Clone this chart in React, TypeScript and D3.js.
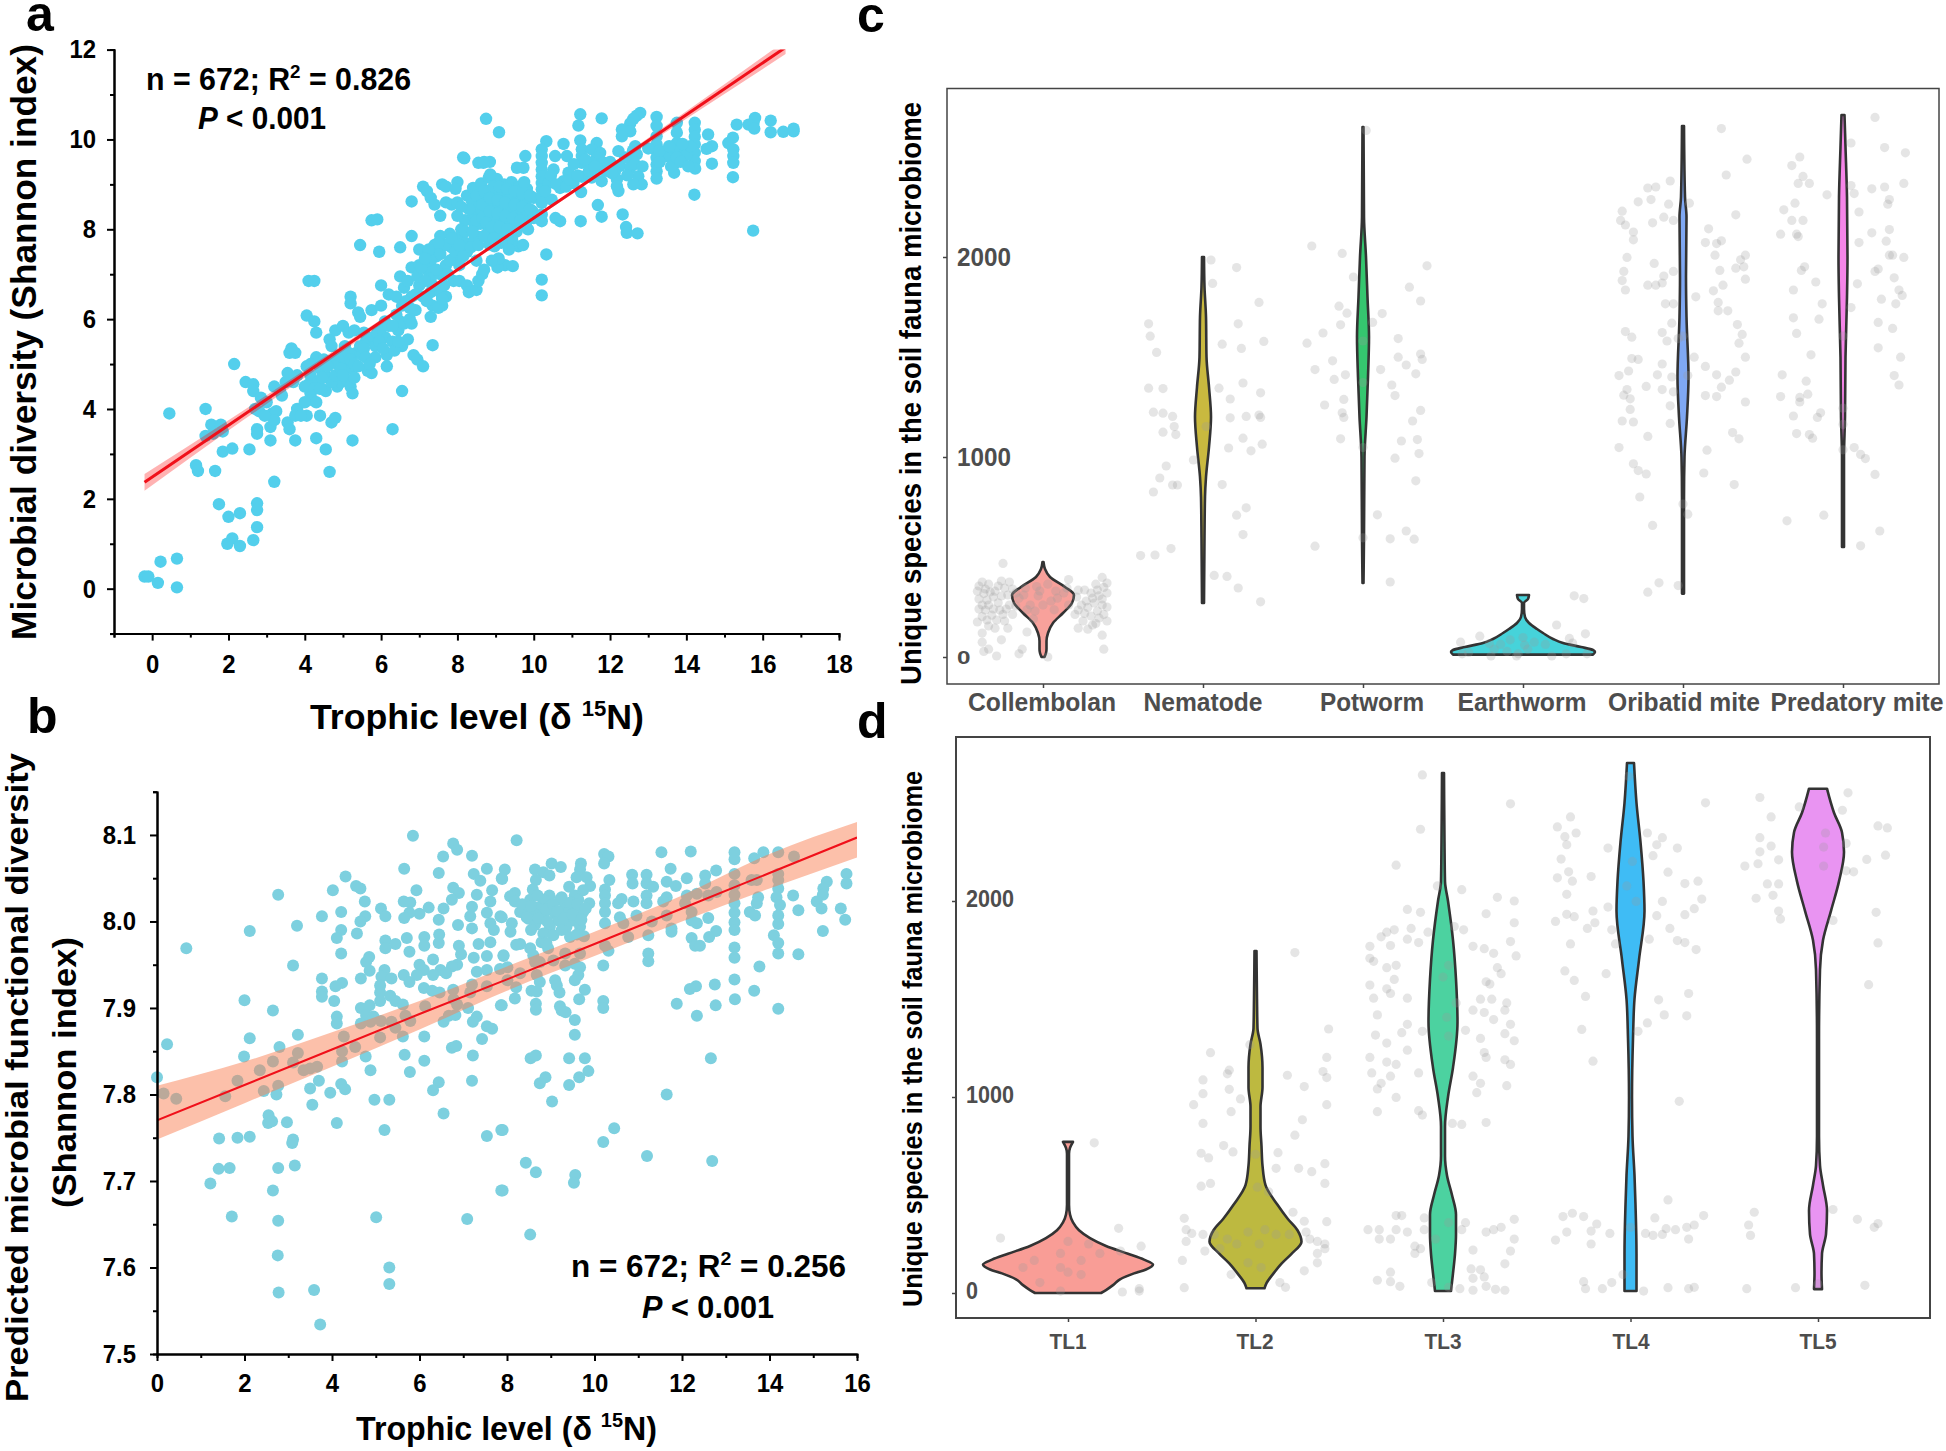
import { useEffect, useRef } from "react"
import * as d3 from "d3"

type Pt = [number, number]

// panel a: trophic level vs microbial diversity
const scatterA: Pt[] = [
  [-0.2,0.27],[-0.1,0.27],[0.15,0.13],[0.22,0.6],[0.65,0.67],[0.65,0.03],[1.15,2.75],[1.2,2.62],[1.65,2.62],[1.75,1.88],[2,1.6],[2.3,1.68],[2.75,1.9],[2.75,1.75],[2.75,1.37],[1.97,1.0],[2.1,1.12],[2.3,0.95],[2.65,1.08],[3.2,2.38],[4.65,2.6],
  [0.45,3.9],[1.4,4.0],[1.55,3.65],[1.4,3.4],[1.6,3.45],[1.8,3.65],[1.85,3.5],[1.85,3.05],[2.1,3.12],[2.55,3.1],[2.15,5.0],[2.45,4.6],[2.65,4.55],[2.65,4.4],[2.85,4.25],[2.7,4.0],[2.8,3.95],[2.75,3.55],[2.75,3.45],[3.1,3.6],[3.1,3.3],[3.15,3.9],[3.25,3.95],[3.2,3.75],[3.2,4.5],[3.35,4.4],[3.55,3.7],[3.6,3.55],[3.75,3.3],[3.8,4.0],[3.75,3.85],[4.05,3.85],[3.9,3.85],[4.3,3.35],[4.4,3.85],[4.55,3.1],[4.7,3.7],[4.8,3.8],[5.25,3.3],[6.3,3.55],[6.55,4.4],
  [3.55,4.8],[3.6,5.25],[3.65,5.35],[3.75,5.25],[3.8,4.75],[4.05,4.95],[4.1,4.55],[4.1,6.85],[4.25,6.85],[4.05,6.08],[4.25,5.95],[4.3,5.7],[4.3,5.15],[4.15,5.0],[4.15,4.75],[4.15,4.35],[4.2,4.2],[4.3,4.15],[4.15,4.5],[4.35,4.6],[4.55,4.4],[4.6,4.7],[4.65,5.55],[4.7,5.4],[4.8,5.75],[4.75,5.1],[4.85,5.0],[4.85,4.5],[4.95,4.6],[5.0,5.85],[5.05,5.4],[5.1,5.0],[5.1,4.65],[5.2,4.9],[5.2,4.5],[5.25,4.35],[5.15,5.7],[5.2,6.5],[5.2,6.35],[5.3,5.75],[5.35,5.25],[5.4,6.15],[5.45,6.05],[5.45,7.65],[5.5,5.2],[5.6,5.5],[5.65,4.85],[5.75,4.8],[5.75,6.2],[5.85,5.15],[5.8,5.6],[5.9,5.7],[5.75,8.2],[5.9,8.22],[5.95,7.5],[6.0,6.3],[6.0,6.75],[6.1,5.6],[6.15,5.2],[6.15,4.95],[6.2,6.55],[6.3,5.5],[6.4,6.5],[6.4,6.1],[6.45,5.75],[6.5,6.95],[6.5,7.6],[6.5,5.95],[6.55,5.4],[6.6,5.9],[6.7,5.55],[6.75,6.0],[6.8,6.5],[6.8,5.9],[6.85,5.2],[6.9,6.2],[6.95,5.1],[7.0,6.75],[7.1,4.95],[6.8,7.15],[6.8,7.85],[6.8,8.62],[7.0,7.55],[7.0,7.2],[7.2,7.1],[7.1,8.95],[7.25,7.05],[7.3,6.9],[7.3,6.6],[7.35,6.3],[7.3,6.05],[7.35,5.42],[7.4,7.65],[7.45,7.4],[7.2,8.85],[7.3,8.7],[7.4,8.55],[7.6,9.0],[7.7,8.95],[7.7,8.6],[7.55,8.3],[7.55,7.85],[7.55,7.45],[7.55,7.0],[7.55,6.6],[7.6,6.3],[7.7,6.5],[7.7,7.2],[7.8,7.9],[7.85,8.55],[7.85,7.6],[7.9,7.35],[7.9,6.85],[8.0,9.05],[8.0,8.6],[8.0,7.8],[8.05,7.2],[8.05,6.85],[8.2,8.2],[8.2,7.7],[8.25,7.5],[8.25,6.75],[8.3,6.6],[8.15,9.6],[8.25,8.75],[8.45,8.55],[8.45,8.1],[8.45,7.8],[8.5,7.3],[8.5,6.65],[8.55,6.85],[8.65,7.0],
  [8.41,8.92],[8.38,8.63],[8.43,8.31],[8.62,9.02],[8.58,8.72],[8.63,8.43],[8.6,8.12],[8.57,7.83],[8.82,9.15],[8.78,8.86],[8.83,8.53],[8.79,8.27],[8.81,7.94],[8.84,7.66],[9.03,9.12],[8.98,8.8],[9.02,8.52],[9.0,8.19],[9.05,7.88],[8.97,7.62],[9.22,9.0],[9.18,8.74],[9.2,8.47],[9.23,8.14],[9.16,7.84],[9.42,9.05],[9.38,8.7],[9.41,8.42],[9.37,8.1],[9.43,7.78],[9.62,8.95],[9.58,8.66],[9.61,8.33],[9.57,8.04],[9.82,8.9],[9.78,8.6],[9.83,8.31],[9.85,8.0],[10.0,8.7],[9.96,8.41],[9.6,7.62],[9.72,7.65],[9.3,7.7],[9.25,7.2],[9.45,7.18],[9.05,7.15],[9.08,7.35],[8.9,7.3],[8.7,7.1],[8.7,9.5],[8.85,9.5],[8.75,10.46],[9.09,10.16],
  [11.22,10.56],[11.17,10.31],[11.78,10.47],[12.79,10.59],[12.7,10.53],[12.61,10.46],[12.53,10.36],[12.31,10.22],[12.53,10.18],[12.31,10.07],[13.22,10.5],[13.22,10.3],[13.22,10.07],[13.75,10.37],[13.75,10.15],[14.22,10.37],[14.22,10.22],[14.22,10.06],[14.22,9.89],[14.22,9.7],[14.22,9.52],[14.23,9.35],[14.57,10.11],[14.67,9.85],[14.53,9.79],[15.32,10.33],[15.22,10.04],[15.1,9.92],[15.23,9.78],[15.23,9.63],[15.23,9.48],[15.22,9.16],[15.76,10.37],[15.8,10.48],[15.63,10.33],[15.78,10.24],[16.21,10.42],[16.21,10.16],[16.54,10.17],[16.81,10.18],[16.81,10.24],[14.67,9.46],[14.21,8.77],[15.75,7.97],
  [10.33,9.96],[10.78,9.9],[10.21,9.78],[10.21,9.63],[10.21,9.48],[10.21,9.33],[10.21,9.18],[10.21,9.03],[10.21,8.89],[10.21,8.74],[10.21,8.59],[10.21,8.33],[10.21,8.18],[10.56,9.63],[10.87,9.63],[10.52,9.33],[10.39,9.03],[10.47,8.66],[9.78,9.63],[9.56,9.37],[9.73,9.37],[8.18,9.58],[8.55,9.48],[8.68,9.48],[8.86,9.22],[11.22,9.98],[11.65,9.92],[11.26,9.78],[11.26,9.63],[11.52,9.78],[11.74,9.7],[11.65,9.59],[11.26,9.48],[11.52,9.48],[11.83,9.48],[12.22,9.74],[12.66,9.85],[12.7,9.67],[12.53,9.59],[12.26,9.41],[12.53,9.37],[12.13,9.29],[12.74,9.18],[12.83,9.0],[12.61,9.0],[12.18,9.11],[12.22,8.85],[12.18,8.96],[11.7,9.33],[11.52,9.15],[11.78,9.07],[11.26,9.17],[10.91,9.26],[10.78,9.07],[10.69,8.92],[11.04,9.03],[11.24,8.83],[11.68,8.54],[11.78,8.28],[10.57,8.25],[10.69,8.18],[11.23,8.18],[12.33,8.33],[12.42,8.05],[12.44,7.92],[12.72,7.91],[10.33,7.44],[10.21,6.88],[10.21,6.53],
  [13.22,9.89],[13.22,9.74],[13.22,9.59],[13.22,9.44],[13.22,9.29],[13.22,9.13],[13.66,9.67],[13.75,9.92],[13.84,9.78],[13.92,9.59],[13.7,9.48],[13.68,9.26],[13.49,9.63],[14.01,9.67],
  [4.4,4.9],[4.5,5.1],[4.6,4.95],[4.45,4.45],[4.7,4.6],[4.8,4.75],[4.9,5.2],[4.95,4.9],[5.0,4.75],[5.05,5.15],[5.15,5.25],[5.2,5.1],[5.3,5.0],[5.3,4.7],[5.4,4.95],[5.45,5.4],[5.55,5.35],[5.6,5.15],[5.55,5.7],[5.7,5.0],[5.85,5.4],[5.95,5.5],[6.0,5.8],[6.05,5.35],[6.1,5.95],[6.2,5.85],[6.3,5.85],[6.35,5.3],[6.45,5.5],[6.55,6.3],[6.6,6.7],[6.65,6.4],[6.7,6.85],[6.75,6.25],[6.9,6.55],[6.95,6.95],[7.05,7.15],[7.1,6.5],[7.15,6.85],[7.2,6.4],[7.3,7.3],[7.35,6.75],[7.45,7.1],[7.5,6.25],[7.6,6.45],[7.65,6.75],[7.7,7.65],[7.75,7.0],[7.8,7.3],[7.85,7.8],[7.95,7.5],[8.05,7.65],[8.1,8.0],[8.15,7.4],[8.2,7.95],[8.3,8.45],[8.35,7.6],[8.4,7.95],[8.5,8.2],[8.5,8.75],[8.55,7.65],[8.65,8.25],[8.65,8.55],[8.7,8.85],[8.7,7.85],[8.75,8.15],[8.85,8.4],[8.85,8.7],[8.9,8.05],[8.95,8.95],[8.95,7.8],[9.05,8.35],[9.05,8.65],[9.1,8.95],[9.1,8.05],[9.15,7.7],[9.25,8.3],[9.25,8.6],[9.3,8.9],[9.3,8.0],[9.35,7.55],[9.45,8.25],[9.5,8.55],[9.5,8.85],[9.55,7.95],[9.65,8.2],[9.7,8.5],[9.7,8.8],[9.75,9.05],[9.8,8.15],[9.9,8.45],[9.9,8.75],[10,8.25],[8.0,8.3],[8.1,8.5],[7.95,8.9],[7.5,7.7],[7.25,7.55],[7.15,7.35],
  [10.3,8.85],[10.45,9.2],[10.6,9.0],[10.85,8.95],[10.95,9.1],[11.05,9.45],[11.15,9.2],[11.35,9.55],[11.45,9.3],[11.6,9.4],[11.9,9.3],[12.0,9.5],[12.05,9.25],[12.4,9.6],[12.45,9.2],[12.6,9.75],[12.65,9.45],[12.85,9.4],[13.0,9.8],[13.3,9.5],[13.3,9.75],[13.55,9.85],[13.6,9.4],[13.75,9.6],[13.85,9.5],[14.05,9.4],[14.1,9.85],[13.9,9.9],
  [3.4,4.3],[3.5,4.6],[3.0,4.15],[2.95,3.85],[3.7,4.6],[4.0,4.5],[4.0,4.15],[4.25,4.45],[4.4,4.45],[4.45,4.7],
]
const fitXA = [-0.2, 2, 4, 6, 8, 10, 12, 14, 16.6]
const fitYA = [2.37, 3.64, 4.79, 5.94, 7.1, 8.25, 9.4, 10.55, 12.05]
const fitUpperA = [2.55, 3.75, 4.87, 5.99, 7.13, 8.28, 9.44, 10.63, 12.2]
const fitLowerA = [2.18, 3.52, 4.7, 5.88, 7.06, 8.21, 9.35, 10.46, 11.9]

// panel b: trophic level vs predicted functional diversity
const scatterB: Pt[] = [
  [5.85,8.099],[6.77,8.09],[6.86,8.083],[6.54,8.075],[7.2,8.076],[5.65,8.061],[7.54,8.061],[6.44,8.056],[7.24,8.055],[7.39,8.047],[7.89,8.049],[4.31,8.052],[4.02,8.036],[4.55,8.041],[4.65,8.038],[5.93,8.036],[6.77,8.039],[6.9,8.033],[2.77,8.031],[7.31,8.031],[7.66,8.036],[4.75,8.023],[5.64,8.023],[5.79,8.022],[6.74,8.025],[7.62,8.023],[6.21,8.016],[5.12,8.015],[4.21,8.011],[6.55,8.015],[7.2,8.017],[5.22,8.006],[4.76,8.006],[3.77,8.006],[6.0,8.009],[5.77,8.01],[5.65,8.004],[6.44,8.002],[7.54,8.01],[7.16,8.006],[7.85,8.006],[4.65,8.0],[2.12,7.989],[3.2,7.995],[4.21,7.99],[6.88,7.996],[7.2,7.992],[7.62,7.998],[7.7,7.99],[4.57,7.986],[6.45,7.985],[4.11,7.981],[5.71,7.981],[6.11,7.982],[5.22,7.978],[6.44,7.975],[5.45,7.974],[6.11,7.972],[5.22,7.969],[0.67,7.969],[6.9,7.972],[7.35,7.974],[7.62,7.976],[4.21,7.963],[5.77,7.965],[6.95,7.962],[4.85,7.959],[4.78,7.953],[6.31,7.956],[7.24,7.958],[7.54,7.96],[7.92,7.96],[3.11,7.949],[6.0,7.95],[6.86,7.95],[6.74,7.948],[6.48,7.944],[4.86,7.943],[5.2,7.944],[6.1,7.944],[6.31,7.938],[6.61,7.94],[7.31,7.942],[7.54,7.944],[5.64,7.938],[5.94,7.938],[3.77,7.934],[4.66,7.934],[5.13,7.936],[5.36,7.934],[5.77,7.93],[4.23,7.929],[4.08,7.925],[5.1,7.926],[6.1,7.923],[6.29,7.92],[7.2,7.927],[7.54,7.925],[3.77,7.919],[5.1,7.918],[6.46,7.918],[6.77,7.921],[7.16,7.918],[3.77,7.913],[5.33,7.914],[2.0,7.909],[4.05,7.908],[5.1,7.908],[5.45,7.908],[6.78,7.91],[5.62,7.904],[6.13,7.902],[7.86,7.903],[2.65,7.897],[4.66,7.9],[4.86,7.903],[6.86,7.904],[7.11,7.9],[4.11,7.89],[4.78,7.892],[4.95,7.89],[5.68,7.891],[6.67,7.891],[7.31,7.89],[4.11,7.882],[4.66,7.882],[4.88,7.884],[5.12,7.885],[5.36,7.884],[5.79,7.885],[6.55,7.884],[6.82,7.892],[7.22,7.884],[7.54,7.879],[7.66,7.876],[3.22,7.869],[4.27,7.867],[5.45,7.877],[5.62,7.867],[6.11,7.867],[2.12,7.865],[5.1,7.866],[7.43,7.864],[0.23,7.858],[2.8,7.855],[4.53,7.855],[4.23,7.85],[6.74,7.854],[6.84,7.856],[3.22,7.848],[5.66,7.846],[1.99,7.844],[4.77,7.844],[7.22,7.845],[2.65,7.838],[3.11,7.837],[4.23,7.838],[6.11,7.839],[2.35,7.828],[3.35,7.828],[3.5,7.83],[3.66,7.832],[4.88,7.828],[5.78,7.826],[1.84,7.816],[3.7,7.816],[7.2,7.816],[2.77,7.81],[6.44,7.814],[3.5,7.807],[4.21,7.812],[4.3,7.806],[6.31,7.805],[3.96,7.802],[2.44,7.804],[2.73,7.8],[0.15,7.801],[0.44,7.795],[1.56,7.798],[4.97,7.794],[5.31,7.794],[3.55,7.788],[6.55,7.778],[2.55,7.776],[2.63,7.769],[2.54,7.767],[2.97,7.768],[4.11,7.767],[5.2,7.759],[7.87,7.759],[7.54,7.752],[1.42,7.749],[1.84,7.75],[2.12,7.751],[3.11,7.748],[3.09,7.744],[1.41,7.714],[1.66,7.715],[2.77,7.715],[3.15,7.718],[1.22,7.697],[2.65,7.689],[7.87,7.689],[1.71,7.659],[2.77,7.654],[5.01,7.658],[7.09,7.656],[2.76,7.614],[5.31,7.6],[5.31,7.581],[3.59,7.574],[2.78,7.571],[3.73,7.534],[0,7.82],
  [8.22,8.094],[10.22,8.078],[10.32,8.075],[10.22,8.067],[11.53,8.08],[12.2,8.081],[13.2,8.08],[13.2,8.072],[13.86,8.08],[14.2,8.08],[13.65,8.073],[14.56,8.075],[9.02,8.067],[9.23,8.063],[9.69,8.067],[7.95,8.06],[8.64,8.06],[8.83,8.057],[8.97,8.053],[9.67,8.06],[11.74,8.061],[12.78,8.059],[10.86,8.054],[11.19,8.054],[12.11,8.05],[12.53,8.053],[13.2,8.055],[14.2,8.055],[15.76,8.055],[15.76,8.044],[8.66,8.048],[9.59,8.051],[9.82,8.051],[10.34,8.048],[10.87,8.044],[11.19,8.044],[11.65,8.046],[11.86,8.041],[12.53,8.044],[13.59,8.048],[13.71,8.048],[14.2,8.048],[15.31,8.046],[13.2,8.042],[7.88,8.05],[9.42,8.04],[9.9,8.041],[11.34,8.04],[12.79,8.034],[15.23,8.038],[8.59,8.037],[9.74,8.036],[10.24,8.037],[14.2,8.038],[14.54,8.03],[8.18,8.033],[8.07,8.029],[8.97,8.03],[9.55,8.03],[10.24,8.03],[10.62,8.026],[11.19,8.03],[11.65,8.028],[12.11,8.03],[12.34,8.032],[12.6,8.03],[13.2,8.031],[15.22,8.031],[13.74,8.028],[14.16,8.028],[8.18,8.023],[8.53,8.025],[8.83,8.025],[9.21,8.025],[9.63,8.025],[9.88,8.021],[10.24,8.021],[10.54,8.021],[10.89,8.023],[11.19,8.021],[11.57,8.023],[12.07,8.021],[13.2,8.021],[14.24,8.019],[15.08,8.023],[13.71,8.021],[8.41,8.016],[8.68,8.016],[8.98,8.018],[9.33,8.018],[9.52,8.016],[15.63,8.015],[15.19,8.015],[14.66,8.013],[8.3,8.011],[8.6,8.009],[8.87,8.011],[9.1,8.009],[9.4,8.01],[9.74,8.011],[10.24,8.011],[10.58,8.005],[10.96,8.007],[11.65,8.007],[12.22,8.011],[13.2,8.01],[13.55,8.011],[14.2,8.007],[13.67,8.007],[7.88,8.005],[8.49,8.003],[8.75,8.003],[9.17,8.001],[9.52,8.001],[15.73,8.002],[12.22,8.001],[12.6,8.004],[11.31,8.0],[8.11,7.998],[8.64,7.996],[8.98,7.994],[9.36,7.994],[9.67,7.994],[10.24,7.998],[10.66,7.998],[11.76,7.992],[12.34,7.998],[13.2,7.999],[14.2,7.997],[8.08,7.988],[8.83,7.986],[9.06,7.984],[9.44,7.982],[9.76,7.983],[10.77,7.982],[11.23,7.984],[12.78,7.989],[12.62,7.982],[13.2,7.99],[15.22,7.989],[14.1,7.984],[11.76,7.988],[12.22,7.981],[8.3,7.974],[8.21,7.973],[8.79,7.976],[10.24,7.972],[14.2,7.975],[12.3,7.972],[12.41,7.972],[8.53,7.969],[8.94,7.969],[13.2,7.97],[10.32,7.966],[11.23,7.963],[14.2,7.963],[14.66,7.962],[8.6,7.961],[9.33,7.963],[9.67,7.963],[7.92,7.961],[13.2,7.958],[9.06,7.955],[11.23,7.954],[8.64,7.953],[9.55,7.951],[8.75,7.953],[9.33,7.949],[10.2,7.949],[13.77,7.948],[8.01,7.947],[7.84,7.945],[8.3,7.94],[9.67,7.947],[8.68,7.938],[9.63,7.938],[8.01,7.932],[9.1,7.932],[8.75,7.93],[9.55,7.932],[13.2,7.933],[12.75,7.927],[12.32,7.925],[8.21,7.924],[9.14,7.926],[12.18,7.922],[8.56,7.92],[9.2,7.918],[9.78,7.921],[8.68,7.919],[13.65,7.92],[8.18,7.911],[9.65,7.91],[13.21,7.91],[10.2,7.908],[11.88,7.905],[8.66,7.905],[12.77,7.903],[7.88,7.903],[10.2,7.9],[8.66,7.898],[14.2,7.899],[9.21,7.902],[9.25,7.897],[9.34,7.895],[12.34,7.891],[9.55,7.886],[9.55,7.869],[8.54,7.842],[8.66,7.845],[9.42,7.842],[9.78,7.842],[12.66,7.842],[9.86,7.827],[8.88,7.82],[8.75,7.813],[9.65,7.82],[9.42,7.811],[11.65,7.8],[9.03,7.792],[10.45,7.761],[7.9,7.759],[10.2,7.745],[11.2,7.729],[12.69,7.723],[8.43,7.721],[8.66,7.71],[9.56,7.707],[9.53,7.698],[7.9,7.689],[8.53,7.638],
  [8.35,8.02],[8.45,8.005],[8.55,8.018],[8.7,8.03],[8.72,8.004],[8.9,8.014],[8.92,8.0],[9.05,8.02],[9.15,8.012],[9.25,8.028],[9.3,8.004],[9.45,8.022],[9.5,8.008],[9.6,8.02],[9.7,8.002],[9.8,8.015],[8.55,7.99],[8.9,7.975],[9.25,7.99],[9.6,7.985],
]
const fitXB = [0, 2, 4, 6, 8, 10, 12, 14, 16]
const fitYB = [7.77, 7.811, 7.852, 7.893, 7.933, 7.974, 8.015, 8.056, 8.097]
const fitUpperB = [7.81, 7.838, 7.872, 7.908, 7.948, 7.988, 8.03, 8.078, 8.115]
const fitLowerB = [7.748, 7.79, 7.832, 7.875, 7.92, 7.96, 8.0, 8.038, 8.074]

// panel c: fauna groups. violin profiles are [species count, density]
const faunaNames = ["Collembolan", "Nematode", "Potworm", "Earthworm", "Oribatid mite", "Predatory mite"]
const faunaColors = ["#f8a19b", "#c9b93f", "#35c66f", "#46d3da", "#7fa8f3", "#f585e8"]
const faunaViolins: Pt[][] = [
  [[475,0.5],[440,2],[400,7],[350,22],[310,31],[270,29],[220,20],[170,10],[120,5],[80,3.5],[40,3.5],[20,3],[0,1.5]],
  [[2000,1],[1850,1.5],[1700,3],[1500,3.5],[1350,6],[1200,8],[1050,6],[900,3],[800,2],[600,1.5],[270,1]],
  [[2650,0.5],[2200,1],[2000,3],[1800,4.5],[1600,6],[1400,5],[1200,3.5],[1000,1.5],[600,1],[370,0.5]],
  [[310,6],[290,5],[270,1],[240,1],[200,2],[170,6],[140,14],[120,20],[90,30],[70,40],[50,58],[35,70],[25,72],[12,70]],
  [[2655,1],[2300,2],[2200,3.5],[1900,3],[1700,3.5],[1400,5.5],[1200,4],[1000,1.5],[800,1],[317,1]],
  [[2710,1.5],[2550,2.5],[2300,4],[2000,4.5],[1800,4],[1500,2.5],[1200,2],[1000,1],[550,1]],
]
const faunaJitter: Pt[] = [
  [-.25,468],[-.38,375],[-.34,364],[-.26,380],[-.21,375],[-.41,329],[-.37,317],[-.30,329],[-.19,340],[.37,398],[.33,364],[.38,348],[.35,306],[.31,294],[.24,260],[.37,260],[.28,248],[.26,218],[.38,213],[.33,167],[.22,144],[.28,139],[.37,109],[.38,39],[-.38,260],[-.34,260],[-.28,271],[-.21,260],[-.38,202],[-.32,209],[-.25,213],[-.34,155],[-.30,144],[-.22,144],[-.38,120],[-.10,125],[-.38,74],[-.26,86],[-.34,39],[-.37,28],[-.29,5],[-.13,39],[-.15,16],[.03,0],[-.03,306],[0,260],[-.08,260],[.09,294],[.16,260],[.2,213],[-.06,190],[.07,236],[-.15,294],[-.04,352],[.03,364],[.22,334],[.16,387],[-.1,236],[-.19,213],
  [-.4,355],[-.36,340],[-.33,325],[-.28,355],[-.24,345],[-.4,290],[-.35,285],[-.31,300],[-.26,305],[-.22,310],[-.17,320],[-.12,310],[-.4,240],[-.36,235],[-.31,240],[-.27,235],[-.23,240],[-.17,255],[-.41,175],[-.35,185],[-.29,185],[-.24,180],[.4,370],[.34,335],[.3,320],[.26,335],[.4,320],[.37,290],[.32,270],[.27,280],[.21,300],[.13,320],[.4,250],[.34,230],[.3,205],[.22,235],[.4,180],[.35,195],[.31,160],[.25,180],[.15,345],[.08,330],[-.02,330],[-.11,345],[.05,280],[-.05,230],
  [1.05,1985],[1.21,1947],[1.06,1868],[1.35,1773],[.66,1666],[1.22,1666],[.67,1604],[.71,1523],[1.38,1578],[1.12,1564],[1.24,1543],[.66,1344],[.75,1342],[1.10,1344],[1.25,1370],[1.36,1321],[1.17,1290],[.69,1224],[.75,1219],[.81,1203],[.82,1152],[.75,1124],[.83,1112],[1.17,1196],[1.27,1203],[1.35,1210],[1.36,1198],[1.02,1152],[1.25,1094],[1.37,1064],[1.30,1031],[1.16,1045],[.94,985],[.77,955],[.73,895],[.81,860],[.84,860],[.69,825],[1.12,862],[1.27,746],[1.21,709],[1.25,612],[.80,542],[.61,507],[.70,510],[1.07,408],[1.15,403],[1.22,345],[1.36,276],
  [2.02,2633],[1.68,2055],[1.87,2018],[2.40,1956],[1.94,1900],[2.29,1849],[2.36,1780],[1.85,1754],[1.90,1719],[2.12,1717],[1.75,1620],[1.86,1661],[2.06,1673],[2.22,1592],[1.65,1569],[2.0,1580],[2.22,1499],[2.36,1515],[2.37,1488],[1.81,1481],[1.70,1437],[2.27,1460],[2.11,1437],[1.89,1411],[1.82,1388],[2.33,1416],[2.0,1372],[2.18,1360],[1.88,1288],[1.76,1260],[2.20,1307],[1.87,1221],[2.36,1233],[1.88,1198],[2.31,1180],[1.86,1091],[2.24,1080],[2.34,1087],[2.0,1047],[2.35,1017],[2.20,994],[2.33,881],[2.09,711],[2.27,630],[2.17,591],[2.32,589],[1.70,554],[2.0,596],[2.17,375],
  [3.32,306],[3.38,292],[3.21,160],[3.39,116],[2.73,104],[3.29,93],[2.61,74],[3.31,70],[2.79,67],[2.86,63],[2.92,86],[3.0,97],[3.07,74],[3.14,63],[2.82,39],[2.90,28],[2.97,16],[3.03,39],[2.66,23],[2.80,5],[2.96,5],[3.18,5],[3.27,16],[3.40,16],[2.62,16],[3.01,60],
  [4.24,2642],[4.40,2489],[4.27,2410],[3.92,2380],[3.78,2345],[3.83,2350],[3.72,2276],[3.80,2287],[3.91,2264],[4.04,2269],[3.62,2229],[4.33,2211],[3.61,2183],[3.88,2199],[3.81,2171],[3.94,2183],[3.64,2160],[3.69,2125],[3.69,2086],[4.16,2141],[4.14,2072],[4.24,2081],[4.21,2067],[3.65,1998],[4.39,2009],[4.20,2009],[4.36,1986],[3.82,1968],[3.63,1928],[4.33,1944],[4.38,1951],[4.23,1933],[3.94,1928],[3.88,1905],[3.62,1882],[3.78,1859],[3.83,1859],[3.87,1870],[4.39,1889],[4.25,1859],[3.64,1835],[4.19,1831],[4.08,1801],[4.22,1773],[3.89,1766],[3.94,1766],[4.22,1731],[4.28,1731],[3.93,1669],[4.34,1662],[3.87,1622],[3.64,1627],[3.68,1599],[4.37,1613],[3.90,1580],[3.97,1592],[4.35,1569],[4.0,1604],[3.68,1492],[3.72,1488],[4.39,1499],[3.87,1465],[4.07,1499],[4.14,1453],[3.60,1407],[3.66,1430],[3.84,1411],[3.93,1400],[4.03,1407],[4.21,1411],[4.33,1425],[4.29,1384],[4.24,1349],[3.65,1337],[3.77,1353],[3.87,1337],[3.94,1326],[3.63,1309],[3.67,1291],[4.14,1307],[4.21,1302],[3.92,1256],[4.39,1275],[3.67,1238],[3.62,1180],[3.69,1175],[3.92,1168],[3.78,1103],[4.31,1122],[4.35,1091],[3.60,1047],[4.15,1034],[3.69,966],[3.72,932],[3.77,915],[4.13,920],[4.32,862],[3.73,800],[4.0,765],[4.03,714],[3.81,658],[3.85,371],[3.97,357],[3.78,324],
  [5.20,2698],[5.05,2570],[5.26,2547],[5.39,2521],[4.73,2500],[4.68,2457],[4.75,2403],[4.72,2368],[4.79,2368],[4.90,2311],[5.05,2357],[5.26,2350],[5.38,2368],[5.18,2341],[5.07,2317],[5.29,2287],[4.70,2269],[4.63,2236],[5.28,2264],[5.10,2225],[4.68,2183],[4.75,2183],[4.61,2114],[4.71,2114],[4.72,2102],[5.18,2121],[5.29,2137],[5.10,2072],[5.27,2079],[5.29,2009],[5.38,1998],[5.31,2009],[4.76,1951],[4.74,1933],[5.22,1940],[5.20,1928],[4.83,1875],[5.32,1896],[5.09,1866],[4.69,1835],[5.35,1835],[5.24,1789],[5.37,1808],[5.33,1766],[4.87,1766],[5.05,1747],[4.69,1696],[4.85,1689],[5.22,1673],[5.31,1643],[4.71,1618],[5.0,1604],[5.22,1546],[4.80,1511],[5.36,1499],[4.62,1411],[5.32,1407],[4.77,1379],[5.35,1360],[4.61,1302],[4.73,1298],[4.78,1314],[4.73,1275],[4.86,1221],[4.69,1205],[4.84,1198],[5.0,1244],[5.0,1163],[4.71,1117],[4.79,1112],[4.81,1094],[5.0,1036],[5.07,1047],[5.11,1013],[5.14,992],[5.20,913],[4.88,709],[4.65,681],[5.23,630],[5.11,556],
]

// panel d: trophic level classes
const trophicNames = ["TL1", "TL2", "TL3", "TL4", "TL5"]
const trophicColors = ["#f99d96", "#bdb940", "#4cd2a0", "#3fbcf5", "#e994f2"]
const trophicViolins: Pt[][] = [
  [[771,5],[740,2],[710,1],[600,1],[450,1],[400,2],[360,5],[320,11],[280,22],[240,38],[200,60],[170,76],[145,85],[120,78],[100,66],[70,52],[40,45],[15,38],[0,33]],
  [[1745,1],[1500,1.5],[1350,2],[1270,5],[1150,7],[1050,7],[950,5],[850,5],[750,6],[650,7],[550,10],[450,22],[380,32],[320,42],[262,46],[200,36],[150,26],[100,18],[50,11],[24,9]],
  [[2653,1],[2300,1.5],[2100,2],[2000,5],[1800,10],[1600,13],[1383,14.5],[1150,10],[1000,5],[850,2],[700,2],[600,4],[500,9],[400,13],[300,13],[200,12],[100,10],[10,8]],
  [[2704,3.5],[2500,6],[2300,10],[2100,13],[1950,14],[1700,8.5],[1500,4],[1300,2.5],[1000,1.5],[800,2],[600,4],[450,5],[200,6],[10,6]],
  [[2573,9],[2450,16],[2350,24],[2250,26],[2100,21],[1950,13],[1800,5],[1650,2],[1300,1],[800,1],[650,2],[550,5],[420,9],[300,8],[200,4],[100,3.5],[20,4]],
]
const trophicJitter: Pt[] = [
  [.14,766],[-.36,280],[.27,330],[.39,239],[.29,5],[.38,10],[-.04,10],[-.15,53],[-.24,130],[-.04,202],[-.04,130],[.07,166],[.17,202],[.28,214],[0,263],[.07,94],[0,106],[-.18,166],[.11,250],[.38,22],
  [1.21,1737],[.76,1226],[.97,1267],[1.39,1347],[.86,1137],[.72,1087],[.85,1118],[1.17,1111],[1.38,1202],[1.36,1130],[1.38,1099],[1.26,1053],[.72,1017],[.86,1039],[.92,990],[.67,961],[1.38,961],[.87,925],[.72,865],[1.25,884],[1.21,805],[.83,752],[.88,720],[.71,713],[.75,689],[1.12,716],[1,708],[1.11,636],[1.37,660],[1.23,636],[1.30,619],[.71,545],[.76,559],[1.37,559],[1.07,516],[1.01,540],[1.20,412],[.62,381],[1.26,366],[1.38,364],[.63,323],[.66,304],[.72,299],[.78,299],[.85,275],[.96,311],[1.05,323],[1.11,299],[1.18,299],[1.27,311],[1.29,275],[.63,263],[.73,214],[.81,226],[.9,250],[1.02,250],[1.33,263],[1.37,250],[1.37,226],[1.33,202],[.61,166],[1.33,154],[1.26,113],[.87,94],[1.03,130],[1.13,53],[1.16,29],[.62,27],[.96,154],
  [1.89,2643],[2.36,2496],[1.88,2366],[1.75,2183],[2.10,2058],[1.97,2077],[2.29,2019],[2.38,2000],[1.81,1957],[1.88,1942],[2.23,1935],[2.38,1889],[1.70,1841],[1.74,1853],[1.83,1860],[1.92,1841],[2.06,1870],[2.11,1853],[2.36,1793],[1.67,1817],[1.61,1769],[1.72,1773],[1.81,1805],[1.87,1788],[2.16,1769],[2.22,1757],[2.39,1720],[2.27,1733],[1.61,1708],[1.63,1692],[1.75,1672],[1.70,1660],[2.03,1672],[2.29,1660],[2.31,1629],[2.0,1612],[1.74,1600],[2.23,1588],[2.25,1576],[1.61,1571],[1.70,1552],[1.72,1528],[1.63,1504],[1.81,1504],[2.20,1499],[2.26,1499],[2.07,1480],[2.34,1480],[2.33,1443],[2.16,1443],[2.22,1431],[1.65,1419],[2.02,1407],[2.27,1395],[1.81,1371],[2.36,1371],[2.12,1340],[1.64,1316],[1.78,1328],[1.89,1335],[2.33,1323],[2.20,1299],[2.38,1287],[1.70,1275],[2.03,1311],[1.81,1239],[2.22,1227],[2.23,1202],[1.61,1202],[2.33,1190],[1.75,1166],[1.70,1178],[2.36,1166],[1.62,1123],[1.87,1123],[1.72,1106],[2.16,1106],[1.67,1070],[2.20,1070],[1.65,1041],[2.34,1058],[2.18,1022],[1.75,998],[1.87,930],[1.65,925],[1.89,908],[2.05,865],[2.10,860],[2.23,870],
  [1.75,395],[1.78,395],[2.38,376],[2.31,335],[1.60,323],[1.66,323],[1.75,323],[1.81,311],[1.90,323],[1.90,383],[2.03,359],[2.12,359],[2.10,323],[2.23,311],[2.27,323],[2.38,275],[1.72,275],[1.66,275],[1.85,239],[1.88,226],[1.96,275],[2.16,219],[2.36,214],[1.85,202],[2.33,149],[2.15,123],[2.20,118],[1.72,106],[2.16,75],[2.22,82],[1.65,65],[1.72,58],[1.77,34],[1.94,53],[2.03,29],[2.09,22],[2.16,14],[2.23,34],[2.28,19],[2.33,14],
  [2.99,2636],[3.40,2501],[2.68,2429],[2.61,2378],[2.71,2347],[2.65,2328],[3.09,2347],[3.17,2323],[3.14,2287],[2.88,2270],[3.25,2270],[2.66,2287],[3.12,2231],[2.63,2214],[3.01,2202],[2.67,2149],[3.20,2147],[2.61,2118],[2.79,2125],[2.69,2101],[3.36,2101],[3.29,2089],[2.98,2077],[2.66,2034],[3.38,2010],[3.03,1998],[3.17,1998],[2.88,1969],[3.34,1961],[2.80,1949],[2.66,1932],[2.70,1920],[3.14,1925],[3.29,1930],[2.60,1896],[2.81,1889],[2.90,1853],[3.21,1860],[2.77,1860],[2.68,1781],[2.92,1781],[3.10,1805],[3.25,1798],[3.29,1788],[3.35,1752],[2.65,1643],[2.87,1629],[2.70,1595],[2.76,1513],[3.31,1528],[3.15,1496],[3.18,1419],[3.30,1414],[3.09,1378],[3.04,1335],[2.74,1345],[2.80,1183],[3.26,978],
  [3.20,475],[2.64,390],[2.69,407],[2.75,390],[3.13,383],[3.39,395],[2.82,352],[3.34,347],[3.30,335],[2.66,311],[2.79,316],[2.89,304],[3.19,328],[3.24,323],[3.0,335],[3.08,304],[3.12,294],[3.17,299],[3.31,275],[2.60,270],[2.79,250],[2.96,94],[2.75,58],[2.76,22],[2.85,22],[2.90,53],[3.20,27],[3.07,10],[3.31,22],[3.34,29],
  [3.69,2528],[4.16,2552],[4.13,2463],[3.90,2480],[3.75,2429],[4.32,2383],[4.37,2373],[4.04,2347],[3.69,2323],[4.15,2294],[3.75,2280],[4.03,2275],[3.69,2251],[4.36,2234],[4.26,2212],[3.61,2178],[3.68,2190],[3.79,2210],[4.03,2178],[4.15,2154],[4.19,2149],[3.73,2087],[3.79,2087],[3.76,2029],[3.67,2014],[3.79,1949],[4.31,1942],[3.80,1908],[4.08,1901],[4.32,1786],[4.27,1573],[4.08,426],[3.66,412],[3.63,347],[3.64,294],[4.21,376],[4.32,354],[4.30,335],[3.62,22],[3.88,27],[4.0,46],[4.25,39],
]

const sans = "'Liberation Sans', Arial, sans-serif"
type G = d3.Selection<SVGGElement, unknown, null, undefined>

function addText(g: G, str: string, x: number, y: number, size: number, opts: any = {}) {
  const t = g.append("text")
    .attr("x", x).attr("y", y)
    .attr("font-family", sans).attr("font-weight", "bold")
    .attr("font-size", size).attr("fill", opts.fill || "#000")
    .attr("text-anchor", opts.anchor || "start")
    .text(str)
  if (opts.length) t.attr("textLength", opts.length).attr("lengthAdjust", "spacingAndGlyphs")
  if (opts.rotate) t.attr("transform", `rotate(-90 ${x} ${y})`)
  return t
}

// "n = 672; R2 = ..." and friends, with a raised 2 or 15
function addRaised(g: G, before: string, raised: string, after: string, x: number, y: number, size: number, length: number) {
  const t = g.append("text").attr("x", x).attr("y", y)
    .attr("font-family", sans).attr("font-weight", "bold").attr("font-size", size).attr("fill", "#000")
    .attr("textLength", length).attr("lengthAdjust", "spacingAndGlyphs")
  t.append("tspan").text(before)
  t.append("tspan").attr("dy", -size * 0.38).attr("font-size", size * 0.62).text(raised)
  t.append("tspan").attr("dy", size * 0.38).text(after)
}

function addPValue(g: G, x: number, y: number, size: number, length: number) {
  const t = g.append("text").attr("x", x).attr("y", y)
    .attr("font-family", sans).attr("font-weight", "bold").attr("font-size", size).attr("fill", "#000")
    .attr("textLength", length).attr("lengthAdjust", "spacingAndGlyphs")
  t.append("tspan").attr("font-style", "italic").text("P")
  t.append("tspan").text(" < 0.001")
}

// the tick digits in the figure are a bit condensed, so squeeze them to their measured width
function squeezedWidth(str: string, perDigit: number) {
  return str.split("").reduce((w, c) => w + (c === "." ? perDigit / 2 : perDigit), 0)
}

function styleAxis(ax: G, fontSize: number) {
  ax.selectAll("path").attr("stroke", "#000").attr("stroke-width", 2)
  ax.selectAll("line").attr("stroke", "#000").attr("stroke-width", 2)
  ax.selectAll<SVGTextElement, unknown>("text")
    .attr("font-family", sans).attr("font-weight", "bold").attr("font-size", fontSize).attr("fill", "#000")
    .each(function () {
      const s = this.textContent || ""
      if (s) d3.select(this).attr("textLength", squeezedWidth(s, 13.3)).attr("lengthAdjust", "spacingAndGlyphs")
    })
}

function drawScatter(root: G, cfg: any) {
  const g = root.append("g")
  const { x, y, points, color, radius, fitX, fitY, upper, lower, band, bandOpacity, lineWidth, clipId } = cfg

  g.append("g").selectAll("circle").data(points as Pt[]).join("circle")
    .attr("cx", (d) => x(d[0])).attr("cy", (d) => y(d[1]))
    .attr("r", radius).attr("fill", color)

  const area = d3.area<number>()
    .x((d) => x(d))
    .y0((_, i) => y(lower[i]))
    .y1((_, i) => y(upper[i]))
    .curve(d3.curveMonotoneX)
  const line = d3.line<number>().x((d) => x(d)).y((_, i) => y(fitY[i]))

  const [xa, xb] = x.range()
  const [ya, yb] = y.range()
  root.append("clipPath").attr("id", clipId).append("rect")
    .attr("x", xa).attr("y", yb).attr("width", xb - xa).attr("height", ya - yb)

  const fit = g.append("g").attr("clip-path", `url(#${clipId})`)
  fit.append("path").attr("d", area(fitX)).attr("fill", band).attr("opacity", bandOpacity)
  fit.append("path").attr("d", line(fitX)).attr("fill", "none").attr("stroke", "#f0101a").attr("stroke-width", lineWidth)

  // major ticks carry labels, minor ticks sit between them
  const minorX = g.append("g").attr("transform", `translate(0,${ya})`)
    .call(d3.axisBottom(x).tickValues(cfg.xMinor).tickSize(4).tickFormat(() => ""))
  styleAxis(minorX as any, 26)
  const majorX = g.append("g").attr("transform", `translate(0,${ya})`)
    .call(d3.axisBottom(x).tickValues(cfg.xMajor).tickSize(7).tickPadding(cfg.xPad).tickSizeOuter(0).tickFormat(d3.format("d") as any))
  styleAxis(majorX as any, 26)

  const minorY = g.append("g").attr("transform", `translate(${xa},0)`)
    .call(d3.axisLeft(y).tickValues(cfg.yMinor).tickSize(4).tickFormat(() => ""))
  styleAxis(minorY as any, 26)
  const majorY = g.append("g").attr("transform", `translate(${xa},0)`)
    .call(d3.axisLeft(y).tickValues(cfg.yMajor).tickSize(7).tickPadding(cfg.yPad).tickSizeOuter(0).tickFormat(d3.format(cfg.yFormat) as any))
  styleAxis(majorY as any, 26)
}

function drawViolinPanel(root: G, cfg: any) {
  const g = root.append("g")
  const { x, y, names, colors, violins, jitter, box, labelX, labelY, labelSize, labelLengths, tickFont, zeroFont, tickWidth } = cfg
  const width = d3.scaleLinear().domain([0, 100]).range([0, 100])

  violins.forEach((profile: Pt[], i: number) => {
    const area = d3.area<Pt>()
      .y((d) => y(d[0]))
      .x0((d) => x(i) - width(d[1]))
      .x1((d) => x(i) + width(d[1]))
      .curve(d3.curveMonotoneY)
    g.append("path").attr("d", area(profile))
      .attr("fill", colors[i]).attr("stroke", "#333").attr("stroke-width", 2.6).attr("stroke-linejoin", "round")
  })

  g.append("g").selectAll("circle").data(jitter as Pt[]).join("circle")
    .attr("cx", (d) => x(d[0])).attr("cy", (d) => y(d[1]))
    .attr("r", 4.6).attr("fill", "#999").attr("opacity", 0.26)

  g.append("rect").attr("x", box.x0).attr("y", box.y0)
    .attr("width", box.x1 - box.x0).attr("height", box.y1 - box.y0)
    .attr("fill", "none").attr("stroke", "#444").attr("stroke-width", box.stroke)

  const left = g.append("g").attr("transform", `translate(${box.x0},0)`)
    .call(d3.axisLeft(y).tickValues([0, 1000, 2000]).tickSize(4).tickFormat(d3.format("d") as any))
  left.select("path").remove()
  left.selectAll("line").attr("stroke", "#444").attr("stroke-width", 1.5)
  left.selectAll<SVGTextElement, number>("text")
    .attr("x", cfg.tickInset).attr("y", cfg.tickShift).attr("text-anchor", "start")
    .attr("font-family", sans).attr("font-weight", "bold").attr("fill", "#4d4d4d")
    .attr("font-size", (d) => (d === 0 ? zeroFont : tickFont))
    .attr("textLength", (d) => (d === 0 ? tickWidth / 4 : d3.format("d")(d).length * tickWidth / 4))
    .attr("lengthAdjust", "spacingAndGlyphs")

  const bottom = g.append("g").attr("transform", `translate(0,${box.y1})`)
    .call(d3.axisBottom(x).tickValues(d3.range(names.length)).tickSize(4).tickFormat(() => ""))
  bottom.select("path").remove()
  bottom.selectAll("line").attr("stroke", "#444").attr("stroke-width", 1.5)

  names.forEach((name: string, i: number) => {
    addText(g, name, labelX[i], labelY, labelSize, { anchor: "middle", fill: "#4d4d4d", length: labelLengths[i] })
  })
}

export default function App() {
  const ref = useRef<SVGSVGElement>(null)

  useEffect(() => {
    if (!ref.current) return
    const svg = d3.select(ref.current)
    svg.selectAll("*").remove()
    const root = svg.append("g") as unknown as G

    drawScatter(root, {
      x: d3.scaleLinear().domain([-1, 18]).range([114, 839]),
      y: d3.scaleLinear().domain([-1, 12]).range([633.6, 49.6]),
      points: scatterA, color: "#53cfec", radius: 6.2,
      fitX: fitXA, fitY: fitYA, upper: fitUpperA, lower: fitLowerA,
      band: "#ff0000", bandOpacity: 0.3, lineWidth: 3, clipId: "clipA",
      xMajor: d3.range(0, 19, 2), xMinor: d3.range(-1, 18, 2),
      yMajor: d3.range(0, 13, 2), yMinor: d3.range(-1, 12, 2),
      xPad: 14, yPad: 11, yFormat: "d",
    })
    drawScatter(root, {
      x: d3.scaleLinear().domain([0, 16]).range([157, 857]),
      y: d3.scaleLinear().domain([7.5, 8.15]).range([1354, 791.7]),
      points: scatterB, color: "#7dd0df", radius: 6,
      fitX: fitXB, fitY: fitYB, upper: fitUpperB, lower: fitLowerB,
      band: "#f98155", bandOpacity: 0.5, lineWidth: 2, clipId: "clipB",
      xMajor: d3.range(0, 17, 2), xMinor: d3.range(1, 16, 2),
      yMajor: [7.5, 7.6, 7.7, 7.8, 7.9, 8.0, 8.1], yMinor: [7.55, 7.65, 7.75, 7.85, 7.95, 8.05, 8.15],
      xPad: 13, yPad: 14, yFormat: ".1f",
    })

    drawViolinPanel(root, {
      x: d3.scaleLinear().domain([0, 5]).range([1043, 1843]),
      y: d3.scaleLinear().domain([0, 2000]).range([657, 257]),
      names: faunaNames, colors: faunaColors, violins: faunaViolins, jitter: faunaJitter,
      box: { x0: 947, x1: 1939, y0: 88.5, y1: 684, stroke: 1.5 },
      labelX: [1042, 1203, 1372, 1522, 1684, 1857], labelY: 711, labelSize: 26,
      labelLengths: [148, 119, 104, 129, 152, 173],
      tickFont: 26, zeroFont: 19, tickInset: 10, tickShift: 0, tickWidth: 54,
    })
    drawViolinPanel(root, {
      x: d3.scaleLinear().domain([0, 4]).range([1068, 1818]),
      y: d3.scaleLinear().domain([0, 2000]).range([1293, 901]),
      names: trophicNames, colors: trophicColors, violins: trophicViolins, jitter: trophicJitter,
      box: { x0: 956, x1: 1930, y0: 737, y1: 1318, stroke: 2 },
      labelX: [1068, 1255, 1443, 1631, 1818], labelY: 1349, labelSize: 22,
      labelLengths: [37, 37, 37, 37, 37],
      tickFont: 24, zeroFont: 24, tickInset: 10, tickShift: -2.5, tickWidth: 48,
    })

    // panel letters
    addText(root, "a", 26, 31, 50)
    addText(root, "b", 27, 733, 50)
    addText(root, "c", 857, 32, 50)
    addText(root, "d", 857, 738, 50)

    // axis titles
    addText(root, "Microbial diversity (Shannon index)", 36, 640, 35, { rotate: true, length: 596 })
    addRaised(root, "Trophic level (δ ", "15", "N)", 310, 729, 35, 334)
    addText(root, "Predicted microbial functional diversity", 28, 1402, 31, { rotate: true, length: 649 })
    addText(root, "(Shannon index)", 76, 1208, 33, { rotate: true, length: 271 })
    addRaised(root, "Trophic level (δ ", "15", "N)", 356, 1440, 33, 301)
    addText(root, "Unique species in the soil fauna microbiome", 921, 685, 29, { rotate: true, length: 583 })
    addText(root, "Unique species  in the soil fauna microbiome", 922, 1307, 27, { rotate: true, length: 536 })

    // fit statistics
    addRaised(root, "n = 672; R", "2", " = 0.826", 146, 89.5, 31, 265)
    addPValue(root, 198, 128.5, 31, 128)
    addRaised(root, "n = 672; R", "2", " = 0.256", 571, 1277, 31, 275)
    addPValue(root, 642, 1318, 31, 132)
  }, [])

  return (
    <svg
      ref={ref}
      width={1946}
      height={1451}
      viewBox="0 0 1946 1451"
      style={{ position: "absolute", left: 0, top: 0, display: "block", background: "#fff" }}
    />
  )
}
